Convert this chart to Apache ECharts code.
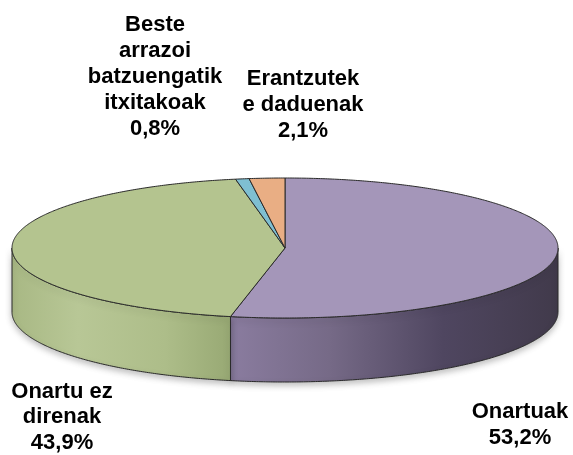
<!DOCTYPE html>
<html>
<head>
<meta charset="utf-8">
<script src="https://cdn.jsdelivr.net/npm/echarts@6/dist/echarts.min.js"></script>
<style>
  html, body { margin: 0; padding: 0; background: #fff; }
  #chart { width: 573px; height: 455px; }
</style>
</head>
<body>
<div id="chart"></div>
<script>
// slice data, clockwise from 12 o'clock
const names = ['Onartuak', 'Onartu ez\ndirenak', 'Beste\narrazoi\nbatzuengatik\nitxitakoak', 'Erantzutek\ne daduenak'];
const values = [53.2, 43.9, 0.8, 2.1];
const topColors = ['#a496b9', '#b4c48f', '#7fbfd2', '#e9ae84'];
// side wall shading (left -> right)
const wallStops = [
  [[0, '#8a7c9f'], [0.3, '#766a87'], [0.65, '#4f4660'], [1, '#413a4b']],
  [[0, '#a8b884'], [0.3, '#b8c796'], [0.7, '#adbd89'], [1, '#98a974']],
  [[0, '#6aa7ba'], [1, '#5a96a8']],
  [[0, '#d39a70'], [1, '#c48b62']]
];
// label anchors: center x, top y, line height
const labelPos = [[520, 399, 26], [62, 379, 25.5], [155, 12, 26], [303, 66, 26]];

// pie geometry
const cx = 285, cy = 248, rx = 273, ry = 70, depth = 64;
const total = values.reduce((a, b) => a + b, 0);
const starts = [];
let acc = 0;
values.forEach(v => { starts.push(acc / total * 360); acc += v; });

const rad = d => d * Math.PI / 180;
const pt = (deg, dy) => [cx + rx * Math.sin(rad(deg)), cy - ry * Math.cos(rad(deg)) + (dy || 0)];
const arc = (a, b, dy) => {
  const pts = [];
  const n = Math.max(2, Math.ceil(Math.abs(b - a) / 0.5));
  for (let i = 0; i <= n; i++) pts.push(pt(a + (b - a) * i / n, dy));
  return pts;
};

const chart = echarts.init(document.getElementById('chart'));

chart.setOption({
  backgroundColor: '#ffffff',
  animation: false,
  series: [{
    type: 'custom',
    coordinateSystem: 'none',
    data: values,
    renderItem: (params, api) => {
      const i = params.dataIndex;
      const a = starts[i];
      const b = a + values[i] / total * 360;
      const children = [];

      // front wall (visible part between 90 and 270 deg)
      const w0 = Math.max(a, 90), w1 = Math.min(b, 270);
      if (w1 > w0) {
        const pts = arc(w0, w1, 0).concat(arc(w1, w0, depth));
        const xs = pts.map(p => p[0]);
        children.push({
          type: 'polygon',
          shape: { points: pts },
          z2: 1,
          style: {
            fill: new echarts.graphic.LinearGradient(Math.min(...xs), 0, Math.max(...xs), 0,
              wallStops[i].map(s => ({ offset: s[0], color: s[1] })), true),
            stroke: '#2a2a2a',
            lineWidth: 1,
            shadowColor: 'rgba(0,0,0,0.25)',
            shadowBlur: 6,
            shadowOffsetY: 3
          }
        });
      }

      // top face
      children.push({
        type: 'polygon',
        shape: { points: [[cx, cy]].concat(arc(a, b, 0)) },
        z2: 2,
        style: { fill: topColors[i], stroke: '#2a2a2a', lineWidth: 1, lineJoin: 'round' }
      });

      // label
      children.push({
        type: 'text',
        z2: 3,
        style: {
          text: names[i] + '\n' + values[i].toFixed(1).replace('.', ',') + '%',
          x: labelPos[i][0],
          y: labelPos[i][1],
          align: 'center',
          verticalAlign: 'top',
          fontFamily: '"Liberation Sans", Arial, sans-serif',
          fontWeight: 'bold',
          fontSize: 22,
          lineHeight: labelPos[i][2],
          fill: '#000000'
        }
      });

      return { type: 'group', children: children };
    }
  }]
});
</script>
</body>
</html>
